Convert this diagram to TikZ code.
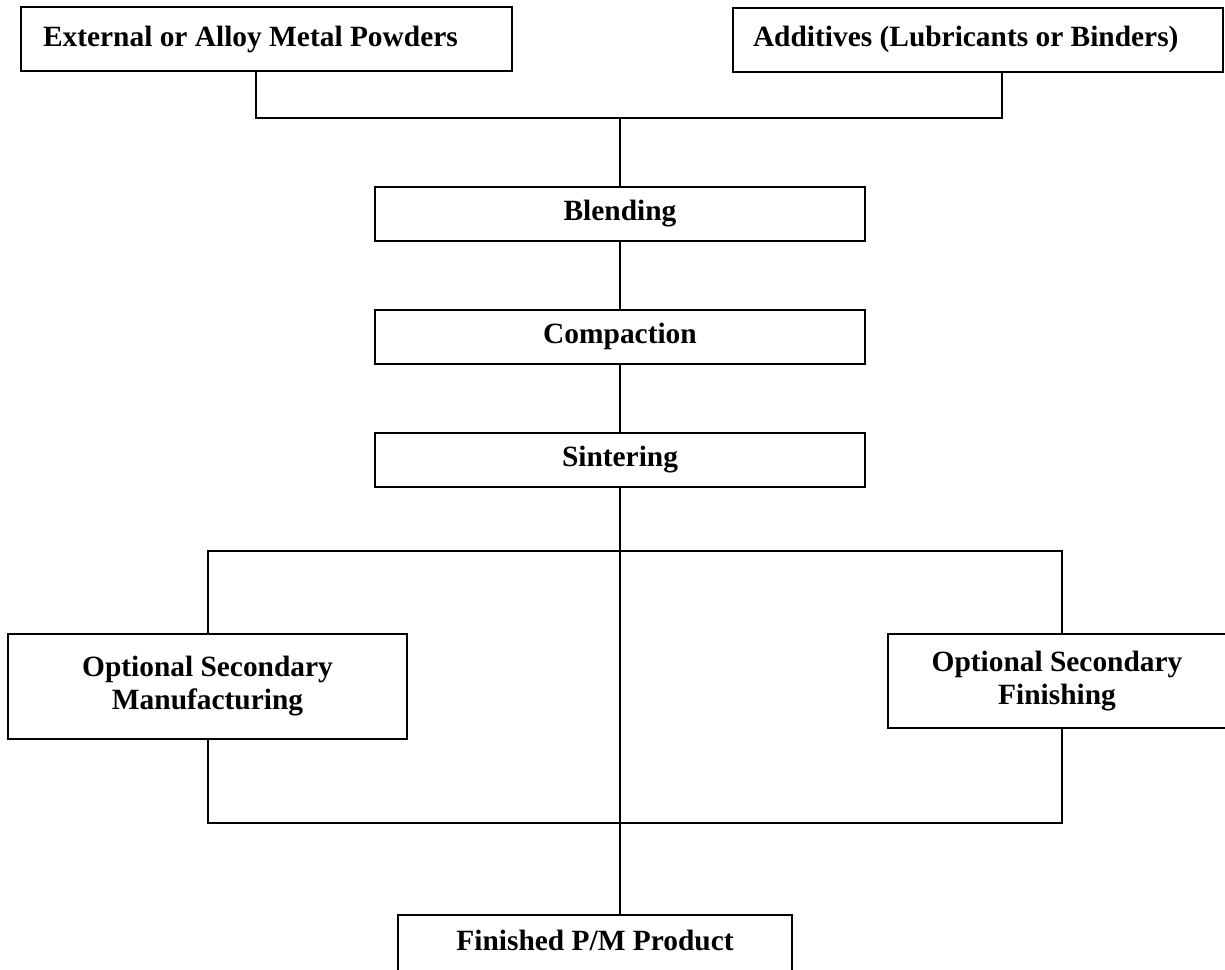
\documentclass[tikz,border=0pt]{standalone}
\usepackage{fontspec}
\setmainfont{Liberation Serif}
\usepackage{xcolor}
\usepackage{tikz}
\usetikzlibrary{positioning}
\newcommand{\pmFont}{\fontsize{14.7}{16.5}\selectfont\bfseries}
\definecolor{PMInk}{HTML}{000000}
\tikzset{
  pmBox/.style={
    rectangle, draw=PMInk, line width=1pt, fill=white,
    align=center, text=PMInk, font=\pmFont,
    minimum width=245pt, minimum height=27pt, inner sep=0pt
  },
  pmSource/.style={
    pmBox, align=flush left, minimum height=32pt,
    inner xsep=#1, text width=245pt-2*#1
  },
  pmSource/.default=10pt,
  pmBranch/.style={
    pmBox, minimum width=#1
  },
  pmLink/.style={draw=PMInk, line width=1pt}
}

\begin{document}
\begin{tikzpicture}[x=0.5pt, y=-0.5pt, node distance=33.5pt]
  \useasboundingbox (0,0) rectangle (1225,969);

  % raw materials
  \node[pmSource=11pt, text width=223.5pt] (powders) at (266.5,39) {External or Alloy Metal Powders};
  \node[pmSource] (additives) at (978,39.5) {Additives (Lubricants or Binders)};

  % main process chain
  \node[pmBox] (blending) at (620,213.5) {Blending};
  \node[pmBox, below=of blending] (compaction) {Compaction};
  \node[pmBox, below=of compaction] (sintering) {Sintering};

  % optional secondary operations
  \node[pmBranch=199.5pt, minimum height=52.5pt] (manufacturing) at (207.5,686.5) {Optional Secondary\\Manufacturing};
  \node[pmBranch=169pt, minimum height=47pt] (finishing) at (1057,681) {Optional Secondary\\Finishing};

  % result, runs past the page edge
  \node[pmBranch=197pt, anchor=north, inner ysep=7.7pt, text depth=40pt] (product) at (595,914) {Finished P/M Product};

  \coordinate (powdersleg) at (256,118);
  \coordinate (additivesleg) at (1002,118);
  \coordinate (topjoin) at (blending.north |- powdersleg);
  \coordinate (splitleft) at (208,551);
  \coordinate (splitright) at (1062,551);
  \coordinate (mergeleft) at (208,823);
  \coordinate (mergeright) at (1062,823);

  \draw[pmLink] (powdersleg |- powders.south) -- (powdersleg) -- (additivesleg) -- (additivesleg |- additives.south);
  \draw[pmLink] (topjoin) -- (blending.north);
  \draw[pmLink] (blending.south) -- (compaction.north);
  \draw[pmLink] (compaction.south) -- (sintering.north);
  \draw[pmLink] (sintering.south) -- (sintering.south |- product.north);
  \draw[pmLink] (splitleft |- manufacturing.north) -- (splitleft) -- (splitright) -- (splitright |- finishing.north);
  \draw[pmLink] (mergeleft |- manufacturing.south) -- (mergeleft) -- (mergeright) -- (mergeright |- finishing.south);
\end{tikzpicture}
\end{document}
